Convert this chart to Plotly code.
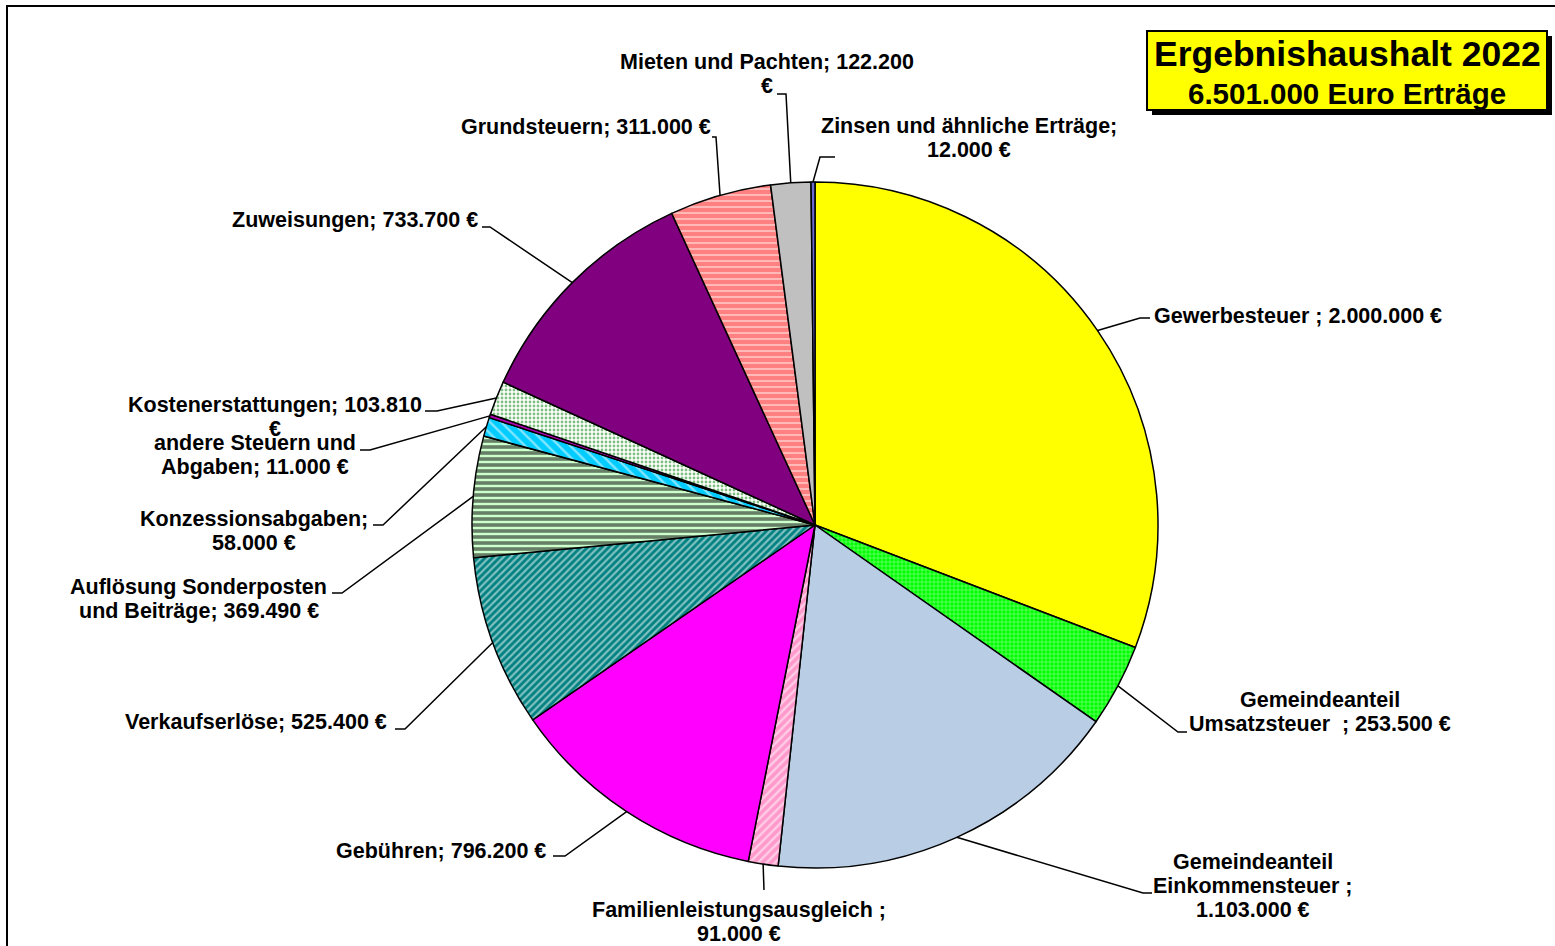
import math
import plotly.graph_objects as go

# ---------------- data ----------------
categories = [
    "Gewerbesteuer", "Gemeindeanteil Umsatzsteuer", "Gemeindeanteil Einkommensteuer",
    "Familienleistungsausgleich", "Gebühren", "Verkaufserlöse",
    "Auflösung Sonderposten und Beiträge", "Konzessionsabgaben", "andere Steuern und Abgaben",
    "Kostenerstattungen", "Zuweisungen", "Grundsteuern", "Mieten und Pachten",
    "Zinsen und ähnliche Erträge",
]
values = [2000000, 253500, 1103000, 91000, 796200, 525400, 369490,
          58000, 11000, 103810, 733700, 311000, 122200, 12000]
label_texts = [
    ["Gewerbesteuer ; 2.000.000 €"],
    ["Gemeindeanteil", "Umsatzsteuer  ; 253.500 €"],
    ["Gemeindeanteil", "Einkommensteuer ;", "1.103.000 €"],
    ["Familienleistungsausgleich ;", "91.000 €"],
    ["Gebühren; 796.200 €"],
    ["Verkaufserlöse; 525.400 €"],
    ["Auflösung Sonderposten", "und Beiträge; 369.490 €"],
    ["Konzessionsabgaben;", "58.000 €"],
    ["andere Steuern und", "Abgaben; 11.000 €"],
    ["Kostenerstattungen; 103.810", "€"],
    ["Zuweisungen; 733.700 €"],
    ["Grundsteuern; 311.000 €"],
    ["Mieten und Pachten; 122.200", "€"],
    ["Zinsen und ähnliche Erträge;", "12.000 €"],
]
title_lines = ["Ergebnishaushalt 2022", "6.501.000 Euro Erträge"]

# ---------------- styles ----------------
slice_bg = ["#FFFF00", "#00FF00", "#B9CDE5", "#FF99CC", "#FF00FF", "#008080", "#CCFFCC",
            "#00CCFF", "#B000B0", "#FFFFFF", "#800080", "#FF8080", "#C0C0C0", "#6A6AD0"]
slice_fg = ["#000000", "#FFFFFF", "#000000", "#FFFFFF", "#000000", "#FFFFFF", "#000000",
            "#FFFFFF", "#000000", "#008000", "#000000", "#FFFFFF", "#000000", "#000000"]
slice_shape = ["", "+", "", "/", "", "/", "-", "\\", "", ".", "", "-", "", ""]
slice_psize = [8, 4, 8, 6, 8, 5, 6, 8, 8, 4, 8, 6, 8, 8]
slice_solid = [0.3, 0.3, 0.3, 0.4, 0.3, 0.45, 0.6, 0.3, 0.3, 0.4, 0.3, 0.3, 0.3, 0.3]

# label layout (pixel positions): x, first-line y, anchor, elbow, end of leader
label_pos = [
    (1152, 316, "left",   (1140, 318), (1150, 318)),
    (1320, 700, "center", (1178, 732), (1187, 732)),
    (1253, 862, "center", (1143, 893), (1152, 893)),
    (739,  910, "center", (764, 890),  (764, 890)),
    (548,  851, "right",  (565, 856),  (553, 856)),
    (389,  722, "right",  (405, 729),  (395, 729)),
    (199,  587, "center", (342, 593),  (332, 593)),
    (254,  519, "center", (383, 525),  (373, 525)),
    (255,  443, "center", (370, 450),  (360, 450)),
    (275,  405, "center", (437, 411),  (425, 411)),
    (480,  220, "right",  (490, 227),  (482, 227)),
    (713,  127, "right",  (716, 137),  (712, 137)),
    (767,   62, "center", (786, 94),   (777, 94)),
    (969,  126, "center", (820, 157),  (835, 157)),
]

W, H = 1555, 946
CX, CY, R = 815, 525, 343
LINE_H = 24
FONT = "Liberation Sans, Arial, sans-serif"
LABEL_SIZE = 21.5


def px(x):
    return x / W


def py(y):
    return 1 - y / H


fig = go.Figure()
fig.add_trace(go.Pie(
    labels=categories,
    values=values,
    sort=False,
    direction="clockwise",
    rotation=0,
    textinfo="none",
    hoverinfo="label+value",
    showlegend=False,
    domain=dict(x=[px(CX - R), px(CX + R)], y=[py(CY + R), py(CY - R)]),
    marker=dict(
        colors=slice_bg,
        line=dict(color="black", width=1.5),
        pattern=dict(shape=slice_shape, fgcolor=slice_fg, bgcolor=slice_bg,
                     size=slice_psize, solidity=slice_solid, fillmode="overlay"),
    ),
))

shapes = []
annotations = []

# outer frame
shapes.append(dict(type="rect", xref="paper", yref="paper",
                   x0=px(7), x1=px(1600), y0=py(6), y1=py(1000),
                   line=dict(color="black", width=2), layer="below"))

# leader lines and labels
total = sum(values)
cum = 0.0
for v, lines, pos in zip(values, label_texts, label_pos):
    mid = (cum + v / 2) / total * 2 * math.pi
    cum += v
    ex = CX + R * math.sin(mid)
    ey = CY - R * math.cos(mid)
    tx, ty, anchor, elbow, end = pos
    path = "M {} {} L {} {} L {} {}".format(px(ex), py(ey), px(elbow[0]), py(elbow[1]),
                                          px(end[0]), py(end[1]))
    shapes.append(dict(type="path", xref="paper", yref="paper", path=path,
                       line=dict(color="black", width=1.5)))
    for i, t in enumerate(lines):
        annotations.append(dict(
            x=px(tx), y=py(ty + i * LINE_H), xref="paper", yref="paper",
            text=t, showarrow=False, xanchor=anchor, yanchor="middle", align=anchor,
            font=dict(family=FONT, size=LABEL_SIZE, color="black", weight="bold"),
        ))

# title box with shadow
shapes.append(dict(type="rect", xref="paper", yref="paper",
                   x0=px(1152), x1=px(1552), y0=py(36), y1=py(115),
                   fillcolor="black", line=dict(width=0)))
shapes.append(dict(type="rect", xref="paper", yref="paper",
                   x0=px(1147), x1=px(1547), y0=py(31), y1=py(110),
                   fillcolor="#FFFF00", line=dict(color="black", width=2)))
annotations.append(dict(x=px(1347), y=py(54), xref="paper", yref="paper",
                        text=title_lines[0], showarrow=False, xanchor="center", yanchor="middle",
                        font=dict(family=FONT, size=35.5, color="black", weight="bold")))
annotations.append(dict(x=px(1347), y=py(93), xref="paper", yref="paper",
                        text=title_lines[1], showarrow=False, xanchor="center", yanchor="middle",
                        font=dict(family=FONT, size=29.5, color="black", weight="bold")))

fig.update_layout(
    width=W, height=H,
    margin=dict(l=0, r=0, t=0, b=0),
    paper_bgcolor="white", plot_bgcolor="white",
    shapes=shapes, annotations=annotations,
)

fig.write_html("out.html",
               config={"displayModeBar": False},
               post_script="document.body.style.margin='0';document.body.style.overflow='hidden';")
